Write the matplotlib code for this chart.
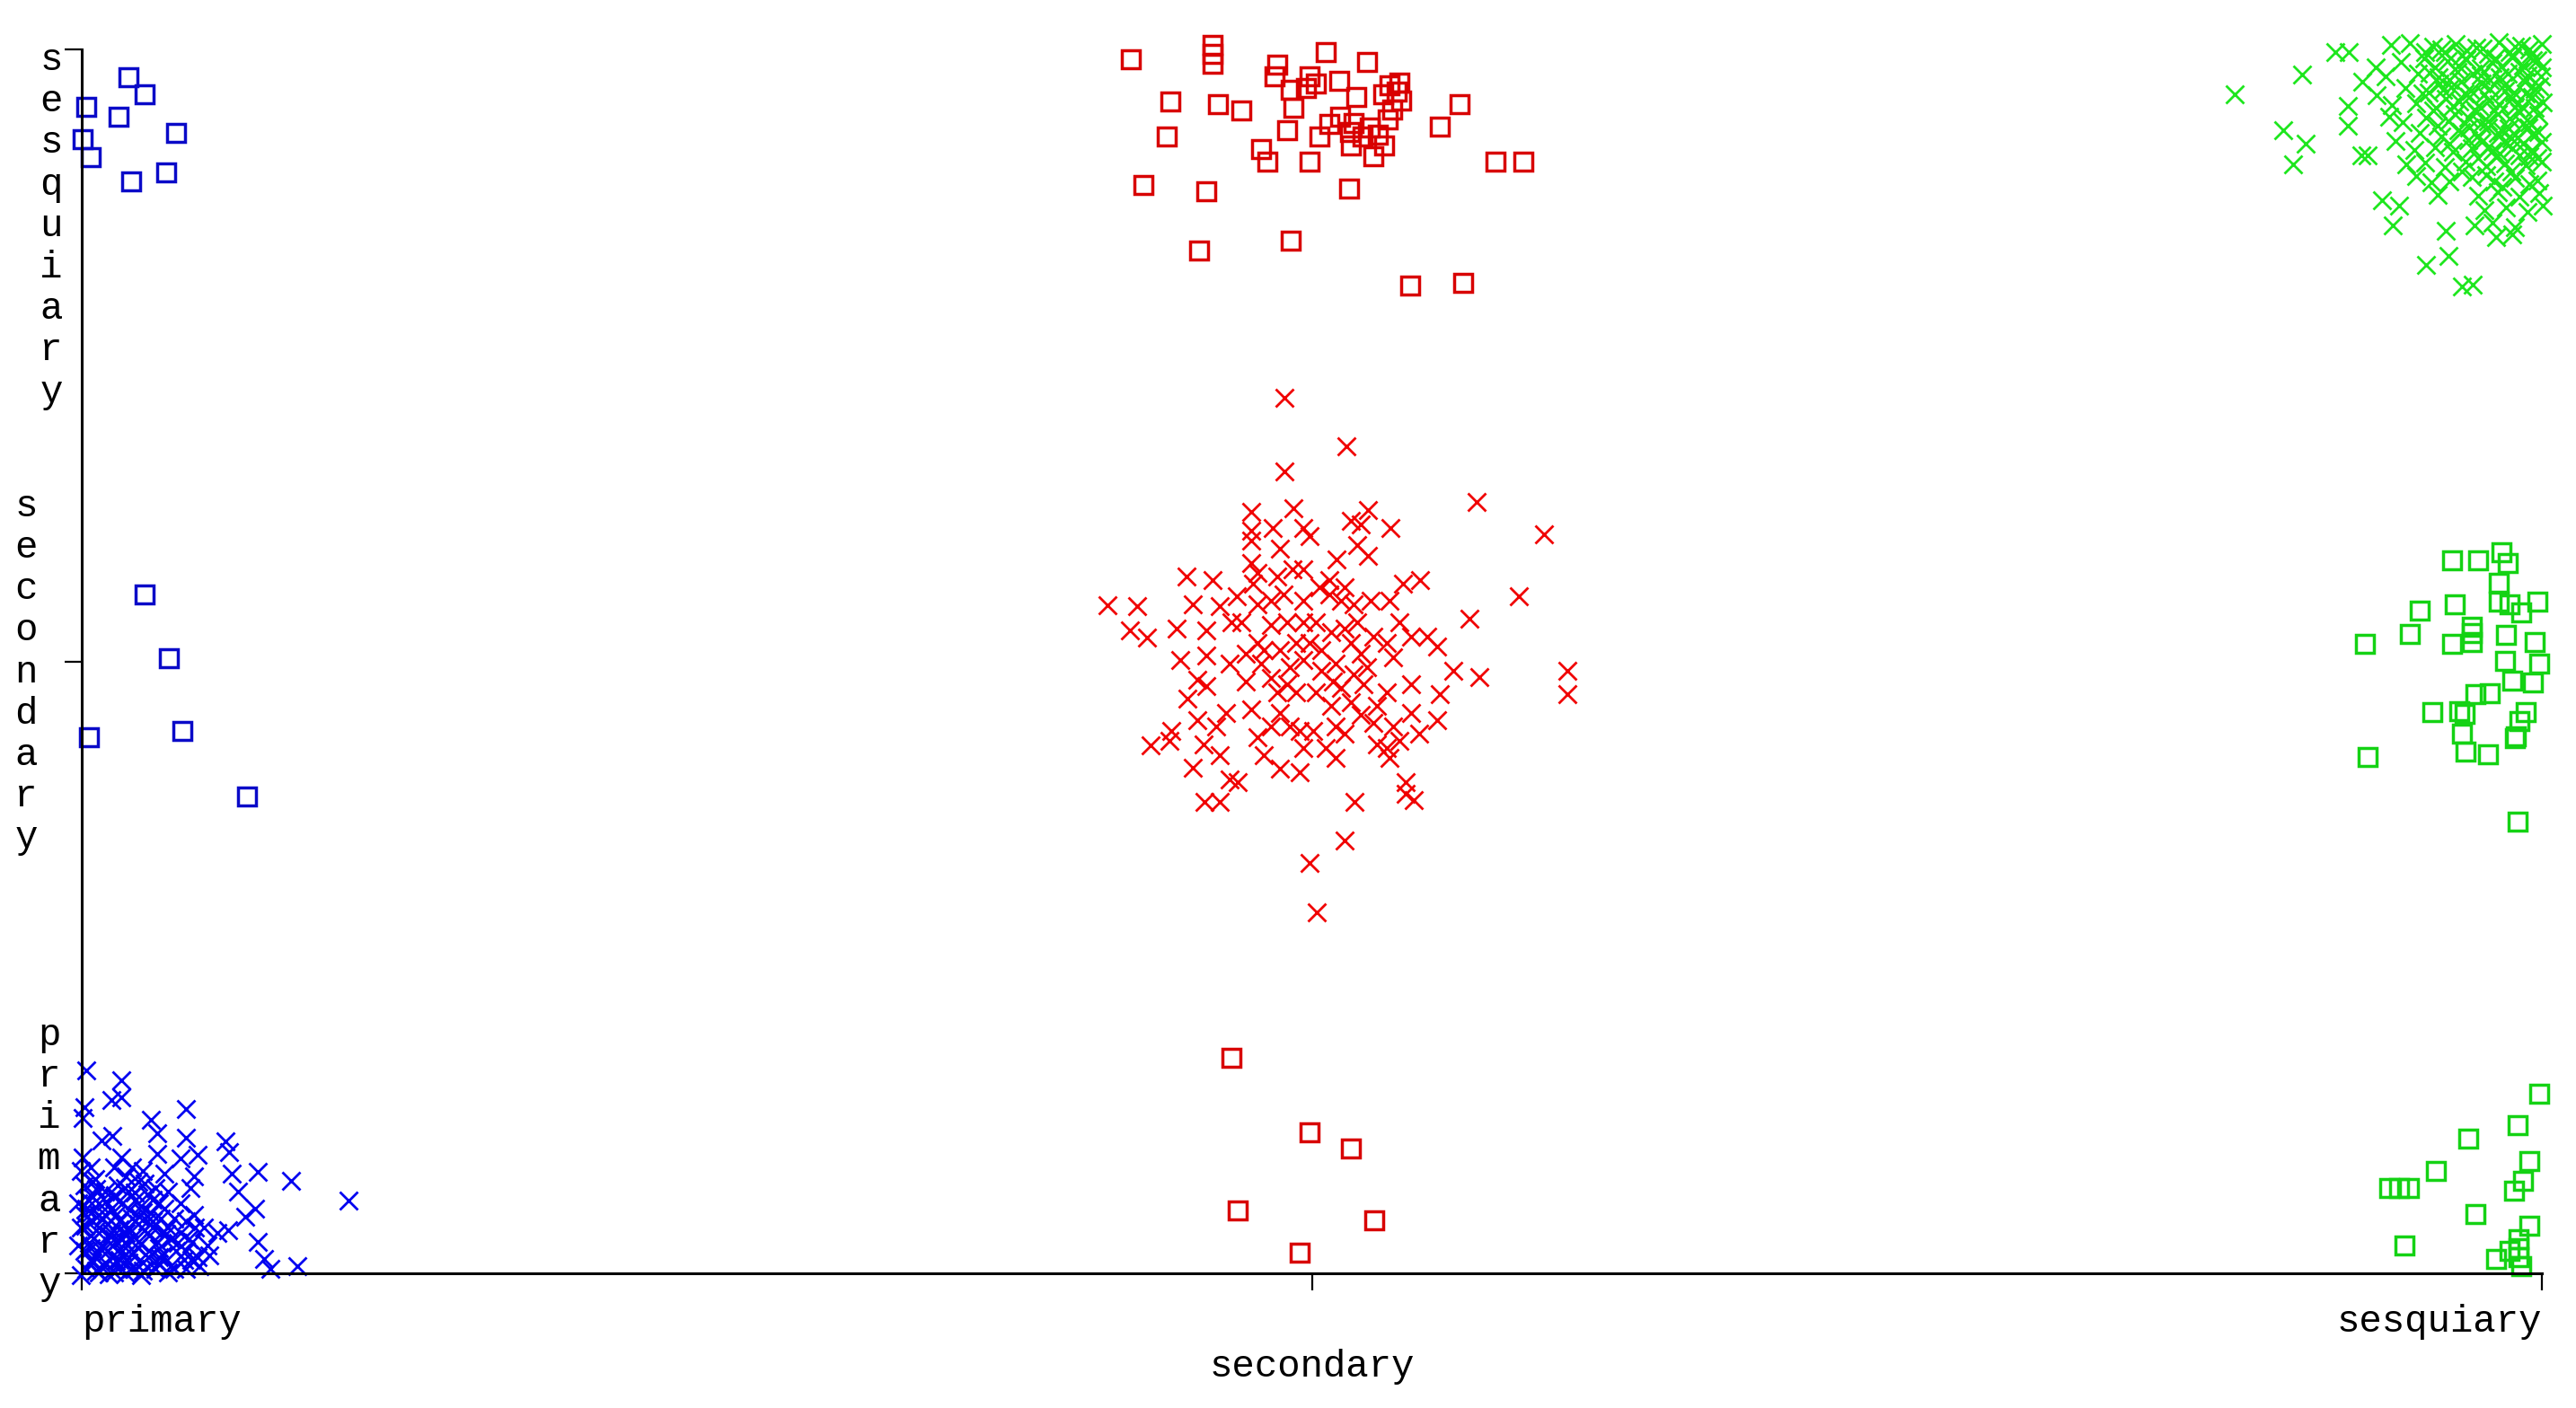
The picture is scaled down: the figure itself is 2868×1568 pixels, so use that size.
import matplotlib
matplotlib.use('Agg')
import matplotlib.pyplot as plt

plt.rcParams['font.family'] = ['Liberation Mono', 'DejaVu Sans Mono']

categories = ['primary', 'secondary', 'sesquiary']

# blue crosses (primary / primary)
blue_x_x = [0.004, 0.032, 0.032, 0.024, 0.002, 0.001, 0.085, 0.056, 0.061, 0.085,
            0.117, 0.120, 0.122, 0.143, 0.170, 0.217, 0.127, 0.088, 0.091, 0.094,
            0.080, 0.061, 0.032, 0.025, 0.016, 0.001, -0.001, 0.009, 0.141, 0.133,
            0.119, 0.110, 0.143, 0.148, 0.175, 0.153, 0.091, 0.085, 0.080, 0.099,
            0.102, 0.094, 0.085, 0.070, 0.063,
            0.002, 0.009, 0.019, 0.029, 0.036, 0.046, 0.053, 0.060, 0.070, 0.004,
            0.014, 0.024, 0.033, 0.041, 0.050, 0.058, 0.067, 0.075, -0.001, 0.007,
            0.016, 0.026, 0.036, 0.046, 0.055, 0.063, 0.072, 0.002, 0.011, 0.021,
            0.031, 0.041, 0.050, 0.060, 0.004, 0.014, 0.026, 0.036, -0.001, 0.009,
            0.021, 0.031, 0.043, 0.063, 0.080, 0.087, 0.077, 0.048, 0.019, -0.003,
            -0.003, 0.038, 0.011, 0.026, 0.041, 0.050, 0.007, 0.067, 0.033, 0.055,
            0.016, 0.085, 0.092, 0.070, 0.029, 0.043, 0.058, 0.002, 0.014, 0.026,
            0.038, 0.048, 0.007, 0.024, 0.046, 0.019, 0.033, 0.053, 0.029, 0.009,
            0.038, 0.065, 0.075, 0.089,
            0.005, 0.012, 0.020, 0.027, 0.035, 0.043, 0.051, 0.058, 0.008, 0.017,
            0.028, 0.039, 0.047, 0.056, 0.064, 0.003, 0.012, 0.022, 0.031, 0.042,
            0.051, 0.061, 0.069, 0.006, 0.015, 0.025, 0.035, 0.045, 0.054, 0.066,
            0.008, 0.018, 0.028, 0.040, 0.050, 0.062, 0.072, 0.012, 0.022, 0.034,
            0.078, 0.083, 0.090, 0.096, 0.104]
blue_x_y = [0.332, 0.315, 0.288, 0.283, 0.271, 0.254, 0.269, 0.251, 0.229, 0.222,
            0.215, 0.198, 0.163, 0.166, 0.151, 0.119, 0.134, 0.139, 0.159, 0.193,
            0.188, 0.195, 0.190, 0.225, 0.217, 0.190, 0.168, 0.149, 0.105, 0.093,
            0.071, 0.066, 0.051, 0.024, 0.012, 0.007, 0.095, 0.085, 0.066, 0.075,
            0.046, 0.026, 0.007, 0.002, 0.026,
            0.144, 0.124, 0.134, 0.144, 0.159, 0.149, 0.129, 0.139, 0.134, 0.105,
            0.095, 0.105, 0.115, 0.090, 0.100, 0.085, 0.105, 0.090, 0.075, 0.061,
            0.071, 0.056, 0.066, 0.051, 0.061, 0.041, 0.056, 0.036, 0.026, 0.036,
            0.022, 0.031, 0.017, 0.007, 0.007, 0.002, 0.002, 0.000, -0.003, 0.085,
            0.080, 0.085, 0.119, 0.115, 0.115, 0.056, 0.036, -0.003, 0.017, 0.115,
            0.046, 0.075, 0.154, 0.173, 0.173, 0.168, 0.173, 0.163, 0.036, 0.036,
            0.046, 0.036, 0.075, 0.075, 0.007, 0.007, 0.075, 0.095, 0.115, 0.124,
            0.134, 0.110, 0.041, 0.066, 0.080, 0.095, 0.056, 0.085, 0.036, 0.017,
            0.017, 0.066, 0.007, 0.022,
            0.120, 0.138, 0.118, 0.128, 0.140, 0.132, 0.147, 0.120, 0.100, 0.088,
            0.096, 0.104, 0.093, 0.098, 0.090, 0.078, 0.070, 0.063, 0.072, 0.060,
            0.070, 0.052, 0.064, 0.050, 0.040, 0.046, 0.050, 0.042, 0.026, 0.030,
            0.022, 0.012, 0.020, 0.008, 0.004, 0.016, 0.012, 0.004, -0.002, 0.028,
            0.050, 0.022, 0.052, 0.012, 0.030]

# blue squares (primary / secondary, sesquiary)
blue_sq_x = [0.038, 0.051, 0.004, 0.030, 0.077, 0.001, 0.007, 0.040, 0.069,
             0.051, 0.071, 0.082, 0.006, 0.134]
blue_sq_y = [1.955, 1.927, 1.906, 1.890, 1.863, 1.853, 1.824, 1.784, 1.799,
             1.109, 1.005, 0.886, 0.876, 0.779]

# red crosses (secondary / secondary)
red_x_x = [0.978, 1.028, 0.978, 1.134, 1.189, 0.985, 0.951, 1.046, 1.064, 1.168,
           1.128, 1.136, 1.208, 1.208, 1.035, 1.027, 0.998, 1.004, 1.083, 1.076,
           0.913, 0.925, 0.940, 0.903, 0.869, 0.884, 0.834, 0.858, 0.898, 0.919,
           0.852, 0.866, 0.890, 0.914, 0.893, 0.914, 0.907, 0.914, 0.899, 0.907,
           0.886, 0.922, 0.930, 0.912, 0.925, 0.933, 0.903, 0.925, 0.935, 0.939,
           0.952, 0.951, 0.951, 0.968, 0.974, 0.993, 0.998, 0.984, 0.951, 1.020,
           1.032, 1.040, 1.037, 1.046, 1.014, 1.027, 1.074, 1.088, 1.063, 1.048,
           1.071, 1.081, 1.094, 1.102, 1.115, 1.104, 1.102, 1.081, 1.087, 1.066,
           1.050, 1.061, 1.081, 1.053, 1.063, 1.071, 1.040, 1.032, 1.024, 1.017,
           1.016, 1.019, 1.011, 1.019, 1.001, 0.990, 0.993, 0.982, 0.974, 0.972,
           0.980, 0.959, 0.946, 0.956, 0.943, 0.956, 0.967, 0.977, 0.993, 1.006,
           1.014, 1.024, 1.034, 1.037, 1.027, 1.016, 1.003, 0.993, 0.980, 0.967,
           0.961, 0.974, 0.987, 0.998, 1.008, 1.019, 1.032, 1.040, 1.050, 1.061,
           1.066, 1.045, 1.034, 1.008, 0.993, 0.982, 0.967, 0.956, 0.961, 0.974,
           0.990, 0.951, 0.967, 1.061, 1.076, 1.027, 1.042, 1.053, 1.003, 0.987,
           0.946, 0.933, 0.972, 0.993, 0.956]
red_x_y = [1.431, 1.352, 1.310, 1.260, 1.207, 1.250, 1.244, 1.247, 1.218, 1.107,
           1.070, 0.974, 0.984, 0.947, 0.771, 0.707, 0.671, 0.590, 0.773, 0.802,
           0.770, 0.770, 0.803, 0.826, 0.863, 0.870, 1.091, 1.090, 1.139, 1.133,
           1.050, 1.039, 1.053, 1.050, 1.002, 1.010, 0.970, 0.959, 0.939, 0.904,
           0.887, 0.893, 0.916, 0.864, 0.847, 0.807, 1.093, 1.090, 1.064, 1.107,
           1.127, 1.213, 1.198, 1.218, 1.184, 1.218, 1.204, 1.150, 1.161, 1.167,
           1.230, 1.224, 1.190, 1.173, 1.133, 1.121, 1.127, 1.133, 1.099, 1.099,
           1.064, 1.041, 1.041, 1.024, 0.984, 0.947, 0.904, 0.916, 0.882, 0.893,
           0.899, 0.950, 0.962, 0.864, 0.842, 0.870, 0.913, 0.933, 0.956, 0.967,
           0.927, 0.893, 0.859, 0.842, 0.887, 0.887, 0.859, 0.893, 0.916, 0.950,
           0.962, 0.996, 1.013, 1.030, 1.064, 1.093, 1.099, 1.110, 1.099, 1.121,
           1.110, 1.099, 1.093, 1.064, 1.053, 1.047, 1.064, 1.064, 1.064, 1.059,
           1.019, 1.019, 1.030, 1.030, 1.019, 0.996, 1.030, 1.013, 1.041, 1.030,
           1.007, 0.990, 0.979, 0.984, 1.002, 0.990, 0.973, 0.876, 0.847, 0.824,
           0.819, 0.922, 0.893, 0.859, 0.784, 0.882, 0.962, 0.927, 0.950, 0.950,
           0.967, 0.996, 1.139, 1.150, 1.144]

# red squares (secondary / primary, sesquiary)
red_sq_x = [0.853, 0.919, 0.919, 0.919, 0.885, 0.882, 0.924, 0.943, 0.863, 0.914,
            0.908, 0.983, 1.011, 1.045, 0.972, 0.970, 0.998, 1.003, 0.995, 0.983,
            0.985, 0.980, 0.959, 0.964, 0.998, 1.022, 1.036, 1.063, 1.071, 1.069,
            1.058, 1.073, 1.065, 1.062, 1.006, 1.014, 1.023, 1.034, 1.031, 1.041,
            1.047, 1.054, 1.059, 1.050, 1.032, 1.030, 1.120, 1.104, 1.149, 1.172,
            1.080, 1.123,
            0.935, 0.998, 1.032, 0.940, 1.051, 0.990]
red_sq_y = [1.984, 2.007, 1.993, 1.977, 1.915, 1.857, 1.911, 1.900, 1.778, 1.768,
            1.672, 1.688, 1.995, 1.979, 1.975, 1.956, 1.956, 1.944, 1.937, 1.934,
            1.905, 1.868, 1.837, 1.817, 1.816, 1.949, 1.922, 1.941, 1.946, 1.931,
            1.927, 1.917, 1.902, 1.885, 1.858, 1.878, 1.890, 1.880, 1.865, 1.858,
            1.873, 1.861, 1.843, 1.826, 1.843, 1.773, 1.911, 1.874, 1.816, 1.816,
            1.614, 1.618,
            0.352, 0.230, 0.204, 0.103, 0.087, 0.034]

# green crosses (sesquiary / sesquiary)
green_x_x = [1.750, 1.805, 1.832, 1.843, 1.790, 1.808, 1.798, 1.842, 1.842, 1.853,
             1.858, 1.870, 1.884, 1.879, 1.922, 1.924, 1.906, 1.935, 1.944, 1.865,
             1.854, 1.866, 1.876, 1.881, 1.890, 1.898, 1.910, 1.915,
             1.877, 1.893, 1.912, 1.930, 1.947, 1.965, 1.983, 2.000,
             1.885, 1.904, 1.923, 1.939, 1.960, 1.976, 1.993,
             1.873, 1.899, 1.916, 1.931, 1.950, 1.966, 1.982, 1.999,
             1.889, 1.908, 1.926, 1.942, 1.958, 1.977, 1.994,
             1.878, 1.898, 1.914, 1.933, 1.949, 1.965, 1.984, 2.001,
             1.887, 1.906, 1.924, 1.940, 1.956, 1.974, 1.990,
             1.901, 1.918, 1.934, 1.948, 1.964, 1.980, 1.997,
             1.896, 1.913, 1.928, 1.943, 1.960, 1.976, 1.992,
             1.905, 1.921, 1.938, 1.955, 1.970, 1.987, 2.000,
             1.925, 1.943, 1.961, 1.978, 1.996,
             1.948, 1.964, 1.982, 1.998,
             1.953, 1.971, 1.988, 2.001,
             1.945, 1.960, 1.978,
             1.963, 1.976,
             1.921, 1.939, 1.956, 1.974, 1.991, 1.913, 1.932, 1.950, 1.967, 1.985,
             2.000, 1.917, 1.934, 1.951, 1.969, 1.986, 1.922, 1.941, 1.957, 1.975,
             1.992, 1.929, 1.947, 1.964, 1.982, 1.997, 1.941, 1.956, 1.973, 1.989,
             1.951, 1.969, 1.985, 2.000, 1.963, 1.982, 1.996,
             1.905, 1.918, 1.935, 1.952, 1.962, 1.978, 1.990, 1.996, 1.909, 1.925,
             1.944, 1.958, 1.972, 1.988, 1.903, 1.920, 1.937, 1.953, 1.970, 1.987,
             1.998, 1.912, 1.928, 1.945, 1.961, 1.978, 1.994, 1.915, 1.932, 1.950,
             1.968, 1.985, 1.925, 1.940, 1.957, 1.975, 1.992, 1.948, 1.966, 1.990,
             1.935, 1.955, 1.975, 1.990, 1.968]
green_x_y = [1.927, 1.959, 1.995, 1.995, 1.868, 1.846, 1.812, 1.907, 1.876, 1.827,
             1.827, 1.753, 1.744, 1.712, 1.704, 1.663, 1.648, 1.612, 1.616, 1.971,
             1.947, 1.925, 1.890, 1.851, 1.812, 1.793, 1.783, 1.763,
             2.007, 2.010, 2.005, 2.009, 2.003, 2.012, 2.006, 2.009,
             1.979, 1.986, 1.981, 1.984, 1.978, 1.987, 1.982,
             1.956, 1.961, 1.955, 1.963, 1.957, 1.954, 1.964, 1.956,
             1.937, 1.930, 1.938, 1.932, 1.936, 1.929, 1.935,
             1.909, 1.912, 1.905, 1.915, 1.907, 1.911, 1.906, 1.914,
             1.881, 1.888, 1.882, 1.889, 1.883, 1.887, 1.881,
             1.863, 1.857, 1.865, 1.859, 1.863, 1.856, 1.865,
             1.835, 1.840, 1.833, 1.838, 1.834, 1.839, 1.835,
             1.815, 1.808, 1.816, 1.809, 1.814, 1.811, 1.817,
             1.785, 1.791, 1.784, 1.790, 1.786,
             1.761, 1.767, 1.760, 1.765,
             1.737, 1.742, 1.735, 1.744,
             1.713, 1.717, 1.710,
             1.694, 1.697,
             1.995, 1.998, 1.992, 1.996, 1.993, 1.971, 1.973, 1.969, 1.972, 1.974,
             1.970, 1.944, 1.947, 1.944, 1.942, 1.947, 1.920, 1.922, 1.917, 1.920,
             1.922, 1.895, 1.898, 1.895, 1.898, 1.893, 1.873, 1.873, 1.871, 1.873,
             1.849, 1.849, 1.846, 1.849, 1.824, 1.827, 1.822,
             1.995, 2.000, 1.990, 2.002, 1.985, 2.004, 2.000, 1.982, 1.962, 1.950,
             1.960, 1.950, 1.960, 1.958, 1.928, 1.934, 1.928, 1.926, 1.932, 1.928,
             1.940, 1.900, 1.908, 1.902, 1.900, 1.906, 1.905, 1.875, 1.868, 1.878,
             1.866, 1.878, 1.846, 1.852, 1.842, 1.854, 1.860, 1.822, 1.830, 1.826,
             1.800, 1.795, 1.800, 1.780, 1.776]

# green squares (sesquiary / primary, secondary)
green_sq_x = [1.927, 1.948, 1.967, 1.972, 1.965, 1.965, 1.974, 1.983, 1.996, 1.901,
              1.929, 1.893, 1.856, 1.943, 1.943, 1.943, 1.927, 1.971, 1.994, 1.970,
              1.998, 1.976, 1.993, 1.946, 1.958, 1.911, 1.933, 1.937, 1.987, 1.982,
              1.979, 1.978, 1.935, 1.938, 1.956, 1.858, 1.980,
              1.998, 1.980, 1.940, 1.914, 1.990, 1.985, 1.977, 1.876, 1.884, 1.892,
              1.946, 1.990, 1.888, 1.963, 1.981, 1.981, 1.981, 1.983, 1.974]
green_sq_y = [1.165, 1.165, 1.178, 1.161, 1.129, 1.098, 1.093, 1.080, 1.098, 1.083,
              1.093, 1.045, 1.028, 1.057, 1.046, 1.032, 1.028, 1.044, 1.032, 1.001,
              0.996, 0.968, 0.966, 0.946, 0.948, 0.917, 0.919, 0.914, 0.917, 0.902,
              0.877, 0.875, 0.882, 0.853, 0.848, 0.843, 0.738,
              0.294, 0.242, 0.220, 0.167, 0.183, 0.151, 0.135, 0.140, 0.140, 0.140,
              0.097, 0.078, 0.045, 0.024, 0.056, 0.041, 0.026, 0.012, 0.037]

BLUE_X, BLUE_SQ = '#0000f0', '#0a0ac8'
RED_X, RED_SQ = '#f00000', '#d80000'
GREEN_X, GREEN_SQ = '#1ee61e', '#14d214'

fig = plt.figure(figsize=(28.68, 15.68), dpi=100)
ax = fig.add_axes([91 / 2868, 150 / 1568, 2739 / 2868, 1363 / 1568])

cross = dict(ls='none', marker='x', ms=15, mew=2.0, clip_on=False)
square = dict(ls='none', marker='s', ms=15, mew=2.5, mfc='none', clip_on=False)

ax.plot(blue_sq_x, blue_sq_y, color=BLUE_SQ, **square)
ax.plot(red_sq_x, red_sq_y, color=RED_SQ, **square)
ax.plot(green_sq_x, green_sq_y, color=GREEN_SQ, **square)
ax.plot(blue_x_x, blue_x_y, color=BLUE_X, **cross)
ax.plot(red_x_x, red_x_y, color=RED_X, **cross)
ax.plot(green_x_x, green_x_y, color=GREEN_X, **cross)

ax.set_xlim(0, 2)
ax.set_ylim(0, 2)
for s in ['top', 'right']:
    ax.spines[s].set_visible(False)
for s in ['left', 'bottom']:
    ax.spines[s].set_linewidth(2.2)
    ax.spines[s].set_color('black')
    ax.spines[s].set_bounds(0, 2)

ax.set_xticks([0, 1, 2])
ax.set_yticks([0, 1, 2])
ax.set_xticklabels([])
ax.set_yticklabels([])
ax.tick_params(direction='out', length=14, width=1.6, color='black')

fs = 30.5
# x labels, staggered like the original
ax.annotate(categories[0], xy=(0, 0), xytext=(0, -65), textcoords='offset pixels',
            ha='left', va='baseline', fontsize=fs)
ax.annotate(categories[1], xy=(1, 0), xytext=(0, -115), textcoords='offset pixels',
            ha='center', va='baseline', fontsize=fs)
ax.annotate(categories[2], xy=(2, 0), xytext=(0, -65), textcoords='offset pixels',
            ha='right', va='baseline', fontsize=fs)

# y labels, one letter per line
def stacked(word):
    return '\n'.join(word)

ax.annotate(stacked(categories[2]), xy=(0, 2), xytext=(-34, 8), textcoords='offset pixels',
            ha='center', va='top', fontsize=fs, linespacing=1.2, annotation_clip=False)
ax.annotate(stacked(categories[1]), xy=(0, 1), xytext=(-62, -12), textcoords='offset pixels',
            ha='center', va='center', fontsize=fs, linespacing=1.2, annotation_clip=False)
ax.annotate(stacked(categories[0]), xy=(0, 0), xytext=(-36, -32), textcoords='offset pixels',
            ha='center', va='bottom', fontsize=fs, linespacing=1.2, annotation_clip=False)

fig.savefig('out.png', dpi=100, facecolor='white')
